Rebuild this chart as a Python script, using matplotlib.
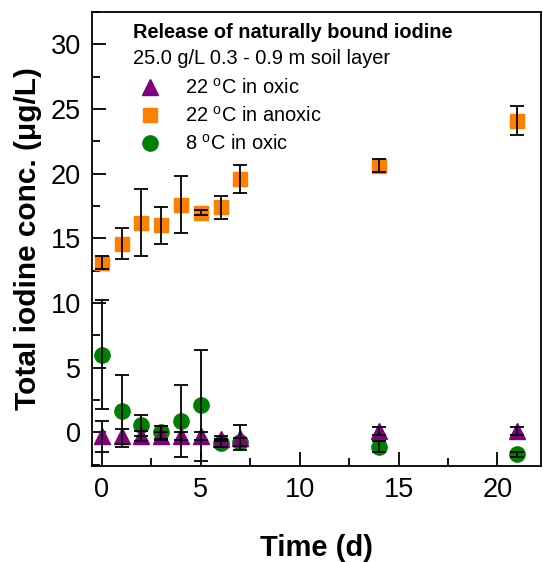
import matplotlib
matplotlib.use("Agg")
import matplotlib.pyplot as plt
from matplotlib.ticker import MultipleLocator

plt.rcParams['font.family'] = ['Liberation Sans', 'DejaVu Sans']
plt.rcParams['mathtext.fontset'] = 'custom'
plt.rcParams['mathtext.rm'] = 'Liberation Sans'

# Data
days = [0, 1, 2, 3, 4, 5, 6, 7, 14, 21]

oxic22 = [-0.3, -0.3, -0.3, -0.3, -0.3, -0.3, -0.5, -0.4, 0.1, 0.1]
oxic22_err = [1.2, 0.6, 0.4, 0.3, 0.3, 0.3, 0.2, 1.0, 0.3, 0.3]

anoxic22 = [13.1, 14.6, 16.2, 16.0, 17.6, 17.0, 17.4, 19.6, 20.6, 24.1]
anoxic22_err = [0.5, 1.2, 2.6, 1.4, 2.2, 0.2, 0.9, 1.1, 0.5, 1.1]

oxic8 = [6.0, 1.65, 0.55, 0.0, 0.9, 2.1, -0.8, -0.75, -1.1, -1.7]
oxic8_err = [4.2, 2.8, 0.8, 0.5, 2.8, 4.3, 0.3, 0.3, 0.4, 0.2]

fig = plt.figure(figsize=(5.43, 5.62), dpi=100)
ax = fig.add_axes([0.1694, 0.1708, 0.8269, 0.8078])

series = [
    (oxic8, oxic8_err, 'o', 11, '#008000', '8 $^{\\mathrm{o}}$C in oxic', 2),
    (anoxic22, anoxic22_err, 's', 10, '#FF8000', '22 $^{\\mathrm{o}}$C in anoxic', 2),
    (oxic22, oxic22_err, '^', 12, '#800080', '22 $^{\\mathrm{o}}$C in oxic', 3),
]
handles = []
for y, err, m, ms, c, lab, z in series:
    line, = ax.plot(days, y, linestyle='none', marker=m, ms=ms, color=c, mec=c,
                    label=lab, zorder=z)
    ax.errorbar(days, y, yerr=err, fmt='none', ecolor='black', elinewidth=1.3,
                capsize=5, capthick=1.3, zorder=5)
    handles.append(line)

ax.set_xlim(-0.5, 22.2)
ax.set_ylim(-2.6, 32.5)
ax.xaxis.set_major_locator(MultipleLocator(5))
ax.xaxis.set_minor_locator(MultipleLocator(2.5))
ax.yaxis.set_major_locator(MultipleLocator(5))
ax.yaxis.set_minor_locator(MultipleLocator(2.5))
ax.tick_params(which='both', direction='in', labelsize=19.5, width=1.3)
ax.tick_params(which='major', length=10, pad=8)
ax.tick_params(which='minor', length=6)
for s in ax.spines.values():
    s.set_linewidth(1.3)

ax.set_xlabel('Time (d)', fontsize=21, fontweight='bold', labelpad=22)
ax.set_ylabel('Total iodine conc. (\u03bcg/L)', fontsize=21.5, fontweight='bold', labelpad=6)

ax.text(0.092, 0.955, 'Release of naturally bound iodine', transform=ax.transAxes,
        fontsize=14.4, fontweight='bold', va='center')
ax.text(0.092, 0.898, '25.0 g/L 0.3 - 0.9 m soil layer', transform=ax.transAxes,
        fontsize=14.4, va='center')

ax.legend(handles[::-1], [h.get_label() for h in handles[::-1]], loc='upper left',
          bbox_to_anchor=(0.06, 0.895), frameon=False, fontsize=14.4,
          handletextpad=1.1, labelspacing=0.4, handlelength=1.3)

fig.savefig('out.png', dpi=100)
